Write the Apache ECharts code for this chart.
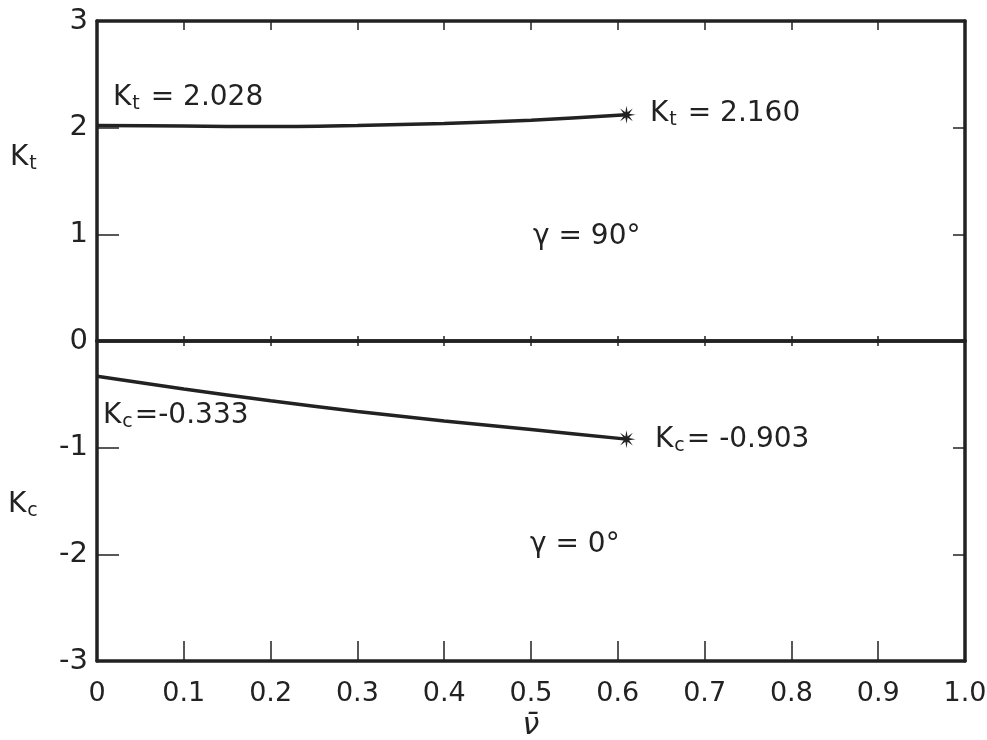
<!DOCTYPE html>
<html>
<head>
<meta charset="utf-8">
<script src="https://cdn.jsdelivr.net/npm/echarts@6/dist/echarts.min.js"></script>
<style>
  html, body { margin: 0; padding: 0; background: #fff; }
  #chart { width: 987px; height: 740px; }
</style>
</head>
<body>
<div id="chart"></div>
<script>
// values
var nuBar = [0, 0.1, 0.2, 0.3, 0.4, 0.5, 0.61];
var ktValues = [2.02, 2.015, 2.01, 2.02, 2.04, 2.07, 2.12];
var kcValues = [-0.33, -0.45, -0.56, -0.66, -0.75, -0.83, -0.92];
var xTickLabels = ['0', '0.1', '0.2', '0.3', '0.4', '0.5', '0.6', '0.7', '0.8', '0.9', '1.0'];

var ink = '#222';
var font = 'DejaVu Sans';

function starPath(n, R, r) {
  var d = '';
  for (var i = 0; i < 2 * n; i++) {
    var a = i * Math.PI / n - Math.PI / 2;
    var rad = i % 2 ? r : R;
    d += (i ? 'L' : 'M') + (R + rad * Math.cos(a)).toFixed(2) + ' ' + (R + rad * Math.sin(a)).toFixed(2) + ' ';
  }
  return 'path://' + d + 'Z';
}
var star = starPath(8, 10, 3.2);

function buildData(xs, ys) {
  return xs.map(function (x, i) {
    if (i === xs.length - 1) {
      return { value: [x, ys[i]], symbol: star, symbolSize: 18, itemStyle: { color: ink } };
    }
    return [x, ys[i]];
  });
}

function xAxisCfg(grid, pos, tickLen, showLabels) {
  return {
    type: 'value', gridIndex: grid, position: pos, min: 0, max: 1, interval: 0.1,
    axisLine: { onZero: false, lineStyle: { color: ink, width: 3.5 } },
    axisTick: { inside: true, length: tickLen, lineStyle: { color: ink, width: 1.5 } },
    axisLabel: {
      show: showLabels, color: ink, fontFamily: font, fontSize: 27, margin: 19,
      formatter: function (v) { return xTickLabels[Math.round(v * 10)]; }
    },
    splitLine: { show: false }
  };
}

function yAxisCfg(grid, pos, min, max, tickLen, showLabels) {
  return {
    type: 'value', gridIndex: grid, position: pos, min: min, max: max, interval: 1,
    axisLine: { onZero: false, lineStyle: { color: ink, width: 3.5 } },
    axisTick: { inside: true, length: tickLen, lineStyle: { color: ink, width: 1.5 } },
    axisLabel: { show: showLabels, color: ink, fontFamily: font, fontSize: 29, margin: 9, showMaxLabel: grid === 0 },
    splitLine: { show: false }
  };
}

var bottomX = xAxisCfg(1, 'bottom', 20, true);
bottomX.name = 'ν\u0304';
bottomX.nameLocation = 'middle';
bottomX.nameGap = 50;
bottomX.nameTextStyle = { color: ink, fontFamily: font, fontSize: 30, fontStyle: 'italic' };

var rich = {
  k: { fontFamily: font, fontSize: 28, color: ink },
  s: { fontFamily: font, fontSize: 19, color: ink, padding: [13, 2, 0, 1] }
};

function label(x, y, text) {
  return {
    type: 'text', x: x, y: y,
    style: { text: text, rich: rich, verticalAlign: 'middle', fill: ink, font: '28px ' + font }
  };
}

var chart = echarts.init(document.getElementById('chart'));
chart.setOption({
  animation: false,
  backgroundColor: '#fff',
  grid: [
    { left: 97, right: 22, top: 21, height: 320, outerBoundsMode: 'none', containLabel: false },
    { left: 97, right: 22, top: 341, height: 320, outerBoundsMode: 'none', containLabel: false }
  ],
  xAxis: [
    xAxisCfg(0, 'top', 9, false),
    xAxisCfg(0, 'bottom', 5, false),
    xAxisCfg(1, 'top', 5, false),
    bottomX
  ],
  yAxis: [
    yAxisCfg(0, 'left', 0, 3, 22, true),
    yAxisCfg(0, 'right', 0, 3, 12, false),
    yAxisCfg(1, 'left', -3, 0, 22, true),
    yAxisCfg(1, 'right', -3, 0, 12, false)
  ],
  series: [
    {
      type: 'line', xAxisIndex: 0, yAxisIndex: 0, symbol: 'none', smooth: 0.3,
      lineStyle: { color: ink, width: 3.5 }, data: buildData(nuBar, ktValues)
    },
    {
      type: 'line', xAxisIndex: 3, yAxisIndex: 2, symbol: 'none', smooth: 0.3,
      lineStyle: { color: ink, width: 3.5 }, data: buildData(nuBar, kcValues)
    }
  ],
  graphic: [
    label(113, 98, '{k|K}{s|t}{k| = 2.028}'),
    label(650, 114, '{k|K}{s|t}{k| = 2.160}'),
    label(103, 416, '{k|K}{s|c}{k|=-0.333}'),
    label(655, 440, '{k|K}{s|c}{k|= -0.903}'),
    label(533, 237, 'γ = 90°'),
    label(530, 545, 'γ = 0°'),
    label(10, 158, '{k|K}{s|t}'),
    label(8, 505, '{k|K}{s|c}')
  ]
});
</script>
</body>
</html>
